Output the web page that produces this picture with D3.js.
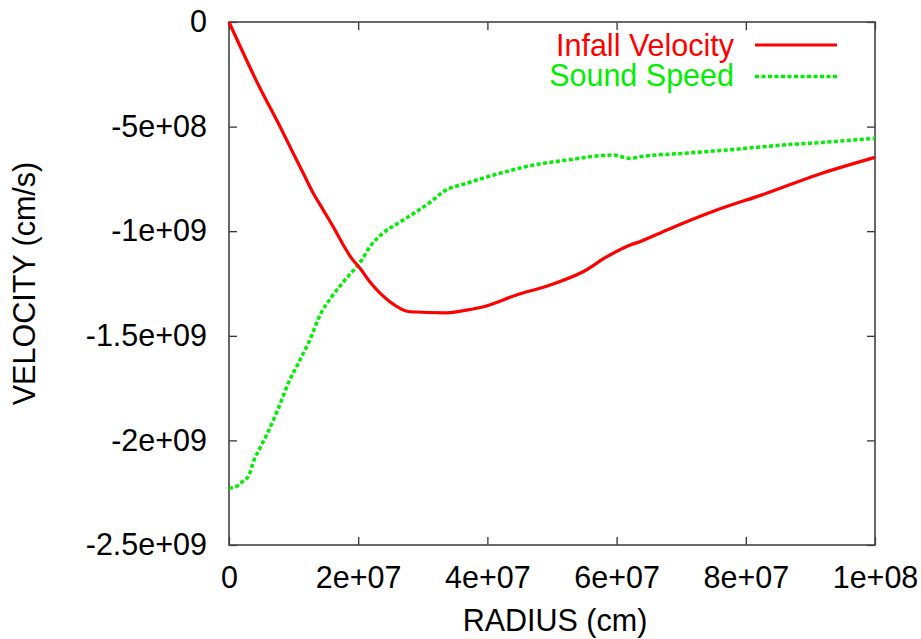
<!DOCTYPE html>
<html>
<head>
<meta charset="utf-8">
<script src="https://cdn.jsdelivr.net/npm/d3@7"></script>
<style>
  html, body { margin: 0; padding: 0; background: #fff; }
  svg { display: block; }
  text { font-family: "Liberation Sans", Arial, Helvetica, sans-serif; }
</style>
</head>
<body>
<svg id="chart" width="921" height="639"></svg>
<script>
// ---- data ----
const xTicks = [0, 2e7, 4e7, 6e7, 8e7, 1e8];
const xTickLabels = ["0", "2e+07", "4e+07", "6e+07", "8e+07", "1e+08"];
const yTicks = [0, -5e8, -1e9, -1.5e9, -2e9, -2.5e9];
const yTickLabels = ["0", "-5e+08", "-1e+09", "-1.5e+09", "-2e+09", "-2.5e+09"];

// Infall Velocity: radius (cm), velocity (cm/s)
const infallR = [0, 0.454e7, 0.816e7, 0.995e7, 1.150e7, 1.305e7, 1.460e7, 1.641e7, 1.769e7, 1.899e7, 2.028e7, 2.18e7, 2.49e7, 2.80e7, 3.37e7, 3.68e7, 3.94e7, 4.45e7, 4.97e7, 5.48e7, 5.85e7, 6.21e7, 6.36e7, 6.78e7, 7.55e7, 8.32e7, 9.10e7, 10.0e7];
const infallV = [0, -0.300e9, -0.516e9, -0.628e9, -0.723e9, -0.819e9, -0.899e9, -0.994e9, -1.066e9, -1.130e9, -1.177e9, -1.242e9, -1.337e9, -1.385e9, -1.390e9, -1.377e9, -1.361e9, -1.305e9, -1.257e9, -1.194e9, -1.122e9, -1.066e9, -1.050e9, -0.994e9, -0.899e9, -0.819e9, -0.731e9, -0.647e9];

// Sound Speed
const soundR = [0, 0.144e7, 0.206e7, 0.31e7, 0.387e7, 0.464e7, 0.619e7, 0.774e7, 0.929e7, 1.073e7, 1.227e7, 1.435e7, 1.59e7, 1.796e7, 2.054e7, 2.18e7, 2.384e7, 2.647e7, 2.91e7, 3.158e7, 3.317e7, 3.68e7, 4.195e7, 4.71e7, 5.23e7, 5.95e7, 6.21e7, 6.36e7, 7.03e7, 7.81e7, 8.58e7, 9.35e7, 10.0e7];
const soundV = [-2.229e9, -2.215e9, -2.198e9, -2.166e9, -2.094e9, -2.046e9, -1.950e9, -1.839e9, -1.719e9, -1.631e9, -1.536e9, -1.385e9, -1.313e9, -1.233e9, -1.138e9, -1.075e9, -1.009e9, -0.956e9, -0.905e9, -0.851e9, -0.811e9, -0.771e9, -0.723e9, -0.684e9, -0.660e9, -0.636e9, -0.652e9, -0.644e9, -0.628e9, -0.609e9, -0.588e9, -0.572e9, -0.556e9];

const seriesNames = ["Infall Velocity", "Sound Speed"];
const xTitle = "RADIUS (cm)";
const yTitle = "VELOCITY (cm/s)";

// ---- layout ----
const L = 229, R = 875, T = 22, B = 545;
const FS = 30.5;
const svg = d3.select("#chart");

const x = d3.scaleLinear().domain([0, 1e8]).range([L, R]);
const y = d3.scaleLinear().domain([-2.5e9, 0]).range([B, T]);

// axes
const tickLen = 8;
const gB = svg.append("g").attr("transform", `translate(0,${B})`)
  .call(d3.axisBottom(x).tickValues(xTicks).tickSizeInner(-tickLen).tickSizeOuter(0).tickPadding(21)
    .tickFormat((d, i) => xTickLabels[i]));
const gT = svg.append("g").attr("transform", `translate(0,${T})`)
  .call(d3.axisTop(x).tickValues(xTicks).tickSizeInner(-tickLen).tickSizeOuter(0).tickFormat(""));
const gL = svg.append("g").attr("transform", `translate(${L},0)`)
  .call(d3.axisLeft(y).tickValues(yTicks).tickSizeInner(-tickLen).tickSizeOuter(0).tickPadding(22)
    .tickFormat((d, i) => yTickLabels[i]));
const gR = svg.append("g").attr("transform", `translate(${R},0)`)
  .call(d3.axisRight(y).tickValues(yTicks).tickSizeInner(-tickLen).tickSizeOuter(0).tickFormat(""));

[gB, gT, gL, gR].forEach(g => {
  g.select(".domain").remove();
  g.selectAll(".tick line").attr("stroke", "#222").attr("stroke-width", 1.2);
  g.selectAll(".tick text").attr("fill", "#000").style("font-size", FS + "px")
    .style("font-family", '"Liberation Sans", Arial, sans-serif');
});

// frame
svg.append("rect").attr("x", L).attr("y", T).attr("width", R - L).attr("height", B - T)
  .attr("fill", "none").attr("stroke", "#444").attr("stroke-width", 1.6);

const line = d3.line().x(d => x(d[0])).y(d => y(d[1])).curve(d3.curveMonotoneX);
const infall = infallR.map((r, i) => [r, infallV[i]]);
const sound = soundR.map((r, i) => [r, soundV[i]]);

svg.append("path").datum(sound).attr("d", line)
  .attr("fill", "none").attr("stroke", "#00ee00").attr("stroke-width", 3.5)
  .attr("stroke-dasharray", "4,2.5");
svg.append("path").datum(infall).attr("d", line)
  .attr("fill", "none").attr("stroke", "#ff0000").attr("stroke-width", 3.2)
  .attr("stroke-linejoin", "round");

// legend
const legend = [
  { name: seriesNames[0], color: "#ff0000", dash: null, ty: 56, ly: 45 },
  { name: seriesNames[1], color: "#00ee00", dash: "4,2.5", ty: 86, ly: 76.5 }
];
legend.forEach(l => {
  svg.append("text").attr("x", 734).attr("y", l.ty).attr("text-anchor", "end")
    .attr("fill", l.color).style("font-size", FS + "px").text(l.name);
  svg.append("line").attr("x1", 755).attr("x2", 837).attr("y1", l.ly).attr("y2", l.ly)
    .attr("stroke", l.color).attr("stroke-width", l.dash ? 3.5 : 3.2)
    .attr("stroke-dasharray", l.dash);
});

// axis titles
svg.append("text").attr("x", (L + R) / 2 + 3).attr("y", 631).attr("text-anchor", "middle")
  .attr("fill", "#000").style("font-size", FS + "px").text(xTitle);
svg.append("text").attr("transform", `translate(35,${(T + B) / 2}) rotate(-90)`)
  .attr("text-anchor", "middle").attr("fill", "#000").style("font-size", FS + "px").text(yTitle);
</script>
</body>
</html>
